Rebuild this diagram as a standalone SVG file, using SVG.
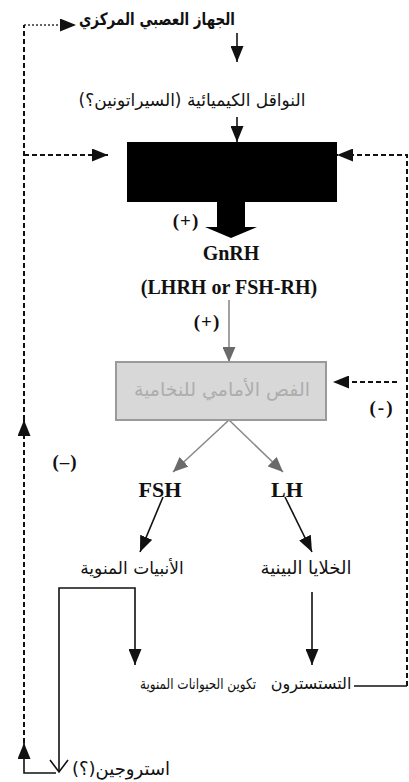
<svg xmlns="http://www.w3.org/2000/svg" width="409" height="782" viewBox="0 0 409 782">
<style>
.ar{font-family:"DejaVu Sans",sans-serif;direction:rtl;unicode-bidi:embed;text-anchor:middle;fill:#111}
.lat{font-family:"Liberation Serif","DejaVu Serif",serif;font-weight:bold;text-anchor:middle;fill:#111}
.sol{stroke:#111;stroke-width:1.6;fill:none}
.dash{stroke:#111;stroke-width:2;fill:none;stroke-dasharray:5 3}
.dot{stroke:#333;stroke-width:1.5;fill:none;stroke-dasharray:2 2}
.gry{stroke:#8a8a8a;stroke-width:1.6;fill:none}
</style>
<defs>
<marker id="ah" viewBox="0 0 10 10" refX="10" refY="5" markerWidth="16" markerHeight="13" markerUnits="userSpaceOnUse" orient="auto" preserveAspectRatio="none">
<path d="M0,0 L10,5 L0,10 z" fill="#111"/>
</marker>
<marker id="ahg" viewBox="0 0 10 10" refX="10" refY="5" markerWidth="15" markerHeight="13" markerUnits="userSpaceOnUse" orient="auto" preserveAspectRatio="none">
<path d="M0,0 L10,5 L0,10 z" fill="#6a6a6a"/>
</marker>
</defs>
<rect width="409" height="782" fill="#fff"/>

<g id="connectors">
<line class="dot" x1="24" y1="25" x2="76" y2="25" marker-end="url(#ah)"/>
<line class="dash" x1="24" y1="420" x2="24" y2="25"/>
<line class="dash" x1="24" y1="743" x2="24" y2="420" marker-end="url(#ah)"/>
<path class="sol" d="M56,773 H24 V743" marker-end="url(#ah)"/>
<line class="dash" x1="24" y1="155" x2="108" y2="155" marker-end="url(#ah)"/>
<line class="sol" x1="237" y1="33" x2="237" y2="62" marker-end="url(#ah)"/>
<line class="sol" x1="237" y1="117" x2="237" y2="142" marker-end="url(#ah)"/>
<polygon points="217,202 245,202 245,227 257,227 231,238 205,227 217,227" fill="#000"/>
<line class="gry" x1="229" y1="300" x2="229" y2="362" marker-end="url(#ahg)"/>
<line class="gry" x1="229" y1="420" x2="173" y2="472" marker-end="url(#ahg)"/>
<line class="gry" x1="229" y1="420" x2="283" y2="472" marker-end="url(#ahg)"/>
<line class="dash" x1="397" y1="382" x2="333" y2="382" marker-end="url(#ah)"/>
<line class="sol" x1="163" y1="497" x2="140" y2="552" marker-end="url(#ah)"/>
<line class="sol" x1="285" y1="497" x2="312" y2="552" marker-end="url(#ah)"/>
<path class="sol" d="M59,771 V588 H135 V665" marker-end="url(#ah)"/>
<path class="sol" d="M50,760 L59,772 L68,760"/>
<line class="sol" x1="312" y1="592" x2="312" y2="665" marker-end="url(#ah)"/>
<line class="sol" x1="354" y1="686" x2="407" y2="686"/>
<path class="dash" d="M407,686 V155 H337" marker-end="url(#ah)"/>
</g>

<g id="cns"><text class="ar" x="157" y="25" font-size="17" font-weight="bold" textLength="156" lengthAdjust="spacingAndGlyphs">الجهاز العصبي المركزي</text></g>
<g id="transmitters"><text class="ar" x="192" y="106" font-size="17">النواقل الكيميائية (السيراتونين؟)</text></g>
<g id="hypothalamus"><rect x="127" y="142" width="210" height="60" fill="#000"/></g>
<g id="plus1"><text class="lat" x="186" y="227" font-size="19" letter-spacing="1">(+)</text></g>
<g id="gnrh">
<text class="lat" x="231" y="260" font-size="20">GnRH</text>
<text class="lat" x="229" y="294" font-size="20">(LHRH or FSH-RH)</text>
</g>
<g id="plus2"><text class="lat" x="207" y="328" font-size="19" letter-spacing="1">(+)</text></g>
<g id="pituitary">
<rect x="116" y="362" width="210" height="58" fill="#d8d8d8" stroke="#9a9a9a" stroke-width="2"/>
<text class="ar" x="222" y="396" font-size="19" style="fill:#adadad">الفص الأمامي للنخامية</text>
</g>
<g id="minus1"><text class="lat" x="382" y="414" font-size="19" letter-spacing="2">(-)</text></g>
<g id="minus2"><text class="lat" x="65" y="468" font-size="19" letter-spacing="1">(–)</text></g>
<g id="fsh"><text class="lat" x="160" y="497" font-size="22">FSH</text></g>
<g id="lh"><text class="lat" x="287" y="497" font-size="22">LH</text></g>
<g id="tubules"><text class="ar" x="132" y="574" font-size="17">الأنبيات المنوية</text></g>
<g id="leydig"><text class="ar" x="306" y="574" font-size="18">الخلايا البينية</text></g>
<g id="spermatogenesis"><text class="ar" transform="translate(198,689) scale(0.8,1)" x="0" y="0" font-size="15">تكوين الحيوانات المنوية</text></g>
<g id="testosterone"><text class="ar" x="311" y="689" font-size="16">التستسترون</text></g>
<g id="estrogen"><text class="ar" x="121" y="775" font-size="18">استروجين(؟)</text></g>
</svg>
